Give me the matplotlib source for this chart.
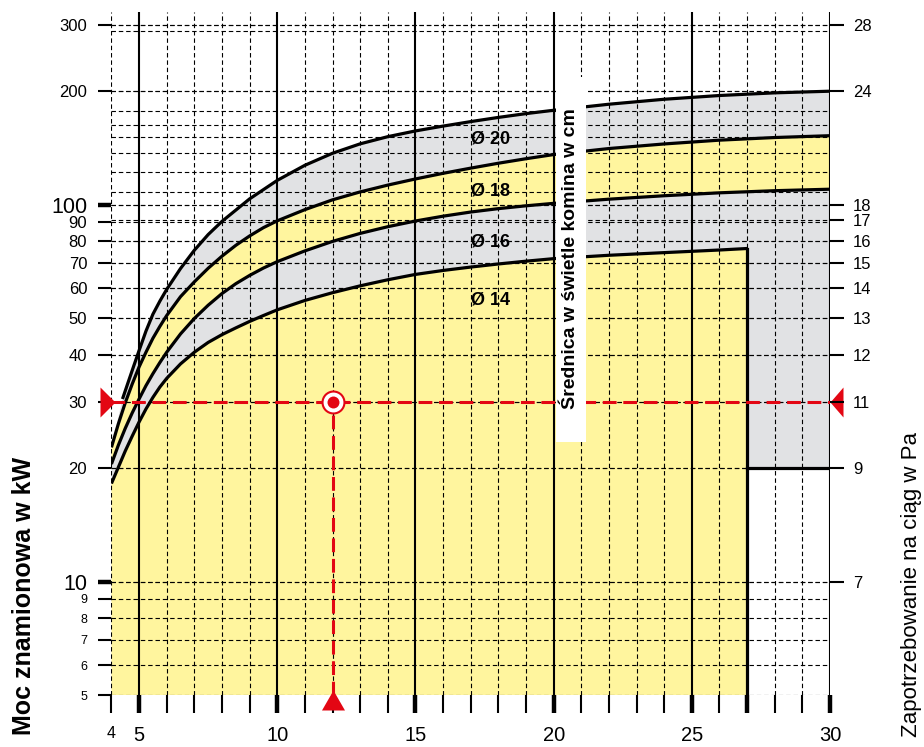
import numpy as np
import matplotlib.pyplot as plt
from matplotlib.patches import Rectangle

plt.rcParams['font.family'] = ['Liberation Sans', 'DejaVu Sans']

# chimney height [m] vs nominal power [kW] for each flue diameter
x14 = [4, 4.25, 4.5, 4.75, 5, 5.25, 5.5, 5.75, 6, 6.5, 7, 7.5, 8, 8.5, 9, 9.5, 10, 11, 12, 13, 14, 15,
       16, 17, 18, 19, 20, 22, 24, 26, 27]
kw14 = [18.2, 20.1, 22.2, 24.3, 26.5, 28.7, 30.8, 32.8, 34.6, 37.8, 40.6, 43.1, 45.2, 47.1, 49.0, 50.8,
        52.6, 55.7, 58.4, 60.9, 63.2, 65.3, 66.9, 68.3, 69.6, 70.8, 71.9, 73.4, 74.6, 75.8, 76.5]

x16 = [4, 4.25, 4.5, 4.75, 5, 5.25, 5.5, 5.75, 6, 6.5, 7, 7.5, 8, 8.5, 9, 9.5, 10, 11, 12, 13, 14, 15,
       16, 17, 18, 19, 20, 22, 24, 26, 28, 30]
kw16 = [20.5, 23.0, 25.5, 28.0, 30.5, 33.1, 35.6, 38.1, 40.6, 45.4, 49.9, 54.1, 58.1, 61.7, 64.9, 67.9,
        70.6, 75.4, 79.9, 83.9, 87.4, 90.5, 93.2, 95.6, 97.6, 99.3, 100.8, 103.4, 105.6, 107.5, 108.9, 109.9]

x18 = [4, 4.25, 4.5, 4.75, 5, 5.25, 5.5, 5.75, 6, 6.5, 7, 7.5, 8, 8.5, 9, 9.5, 10, 11, 12, 13, 14, 15,
       16, 17, 18, 19, 20, 22, 24, 26, 28, 30]
kw18 = [22.7, 26.2, 29.8, 33.4, 37.1, 40.6, 44.2, 47.5, 50.8, 57.0, 62.4, 67.8, 73.0, 78.0, 82.6, 86.9,
        90.6, 97.0, 103.0, 108.1, 112.7, 117.0, 121.1, 125.0, 128.8, 132.4, 135.8, 140.9, 144.9, 148.3,
        150.7, 152.4]

x20 = [4.4, 4.6, 4.8, 5, 5.25, 5.5, 5.76, 6, 6.5, 7, 7.5, 8, 9, 10, 11, 12, 13, 14, 15, 16, 17, 18, 19,
       20, 22, 24, 26, 28, 30]
kw20 = [30.5, 33.7, 37.2, 41.0, 46.2, 51.2, 55.6, 59.6, 67.7, 75.7, 83.3, 90.3, 103.6, 116.0, 127.2,
        136.9, 145.0, 151.5, 156.9, 161.6, 166.1, 170.4, 174.4, 178.0, 184.7, 190.4, 194.8, 198.0, 200.0]

# lower edge of the grey zone right of the Ø14 range
grey_floor = 20

# left scale (kW)
kw_ticks = [5, 6, 7, 8, 9, 10, 20, 30, 40, 50, 60, 70, 80, 90, 100, 200, 300]
# right scale: draught requirement [Pa] and where it sits on the kW scale
pa_labels = [28, 24, 18, 17, 16, 15, 14, 13, 12, 11, 9, 7]
pa_pos = [300, 200, 100, 91, 80, 70, 60, 50, 40, 30, 20, 10]
pa_grid = [108, 122, 137, 151, 163, 177, 289]

x_labels = {4: '4', 5: '5', 10: '10', 15: '15', 20: '20', 25: '25', 30: '30'}

# example reading: 12 m chimney, 30 kW boiler
pt_x, pt_kw = 12, 30

YELLOW = '#FFF59E'
GREY = '#E1E2E4'
RED = '#E30613'

fig = plt.figure(figsize=(9.24, 7.47), dpi=100)
ax = fig.add_axes([0.1206, 0.0696, 0.7777, 0.9147])
ax.set_yscale('log')
ax.set_xlim(4, 30)
ax.set_ylim(5, 325)
for s in ax.spines.values():
    s.set_visible(False)

# coloured bands
ax.fill(x14 + [x14[-1], x14[0]], kw14 + [5, 5], color=YELLOW, lw=0, zorder=1)
ax.fill(x16 + [x16[-1], x14[-1]] + x14[::-1], kw16 + [grey_floor, grey_floor] + kw14[::-1],
        color=GREY, lw=0, zorder=1)
ax.fill(x18 + x16[::-1], kw18 + kw16[::-1], color=YELLOW, lw=0, zorder=1)
ax.fill(x20 + x18[::-1], kw20 + kw18[::-1], color=GREY, lw=0, zorder=1)

# grid
dash = (0, (4, 2.6))
for v in kw_ticks + pa_grid + pa_pos:
    ax.axhline(v, color='black', lw=0.8, ls=dash, zorder=2)
for xv in range(4, 31):
    if xv % 5 == 0:
        ax.axvline(xv, color='black', lw=1.5, zorder=2.5)
    else:
        ax.axvline(xv, color='black', lw=0.8, ls=dash, zorder=2)

# curves
for xs, ys in [(x14, kw14), (x16, kw16), (x18, kw18), (x20, kw20)]:
    ax.plot(xs, ys, color='black', lw=2.3, zorder=3, solid_capstyle='butt', solid_joinstyle='round')
ax.plot([x14[-1], x14[-1]], [5, kw14[-1]], color='black', lw=2.3, zorder=3)
ax.plot([x14[-1], 30], [grey_floor, grey_floor], color='black', lw=2.3, zorder=3)

# diameter labels
for txt, kw in [('Ø 20', 149), ('Ø 18', 109), ('Ø 16', 79.5), ('Ø 14', 56)]:
    ax.text(17.7, kw, txt, ha='center', va='center', fontsize=13, fontweight='bold', zorder=4)

# example reading
ax.axhline(pt_kw, color=RED, lw=2.2, ls=(0, (4.5, 2.2)), zorder=4)
ax.plot([pt_x, pt_x], [5, pt_kw], color=RED, lw=2.2, ls=(0, (4.5, 2.2)), zorder=4)
ax.plot(pt_x, pt_kw, 'o', ms=15.8, mfc='white', mec=RED, mew=1.5, zorder=4.5)
ax.plot(pt_x, pt_kw, 'o', ms=8.6, color=RED, mew=0, zorder=4.6)
tri_left = [(-11, 15), (4, 0), (-11, -15)]
tri_right = [(13, 15), (0, 0), (13, -15)]
tri_up = [(-11.5, -15), (0, 5), (11.5, -15)]
ax.plot(4, pt_kw, marker=tri_left, ms=21.6, color=RED, mew=0, clip_on=False, zorder=4.6)
ax.plot(30, pt_kw, marker=tri_right, ms=21.6, color=RED, mew=0, clip_on=False, zorder=4.6)
ax.plot(pt_x, 5, marker=tri_up, ms=21.6, color=RED, mew=0, clip_on=False, zorder=4.6)

# diameter caption in a white box
ax.add_patch(Rectangle((20.07, 23.5), 1.09, 195, fc='white', ec='none', zorder=5))
ax.text(20.62, 72, 'Średnica w świetle komina w cm', rotation=90, ha='center', va='center',
        fontsize=14, fontweight='bold', zorder=6)

# left axis ticks
ax.yaxis.set_minor_locator(plt.NullLocator())
ax.set_yticks(kw_ticks)
ax.set_yticklabels([str(v) for v in kw_ticks])
ax.tick_params(axis='y', direction='out', length=9.5, width=1.5, pad=8, labelsize=12)
for t, v in zip(ax.yaxis.get_major_ticks(), kw_ticks):
    if v in (10, 100):
        t.tick1line.set_markeredgewidth(3.2)
        t.label1.set_fontsize(15.5)
    elif v < 10:
        t.label1.set_fontsize(9)

# bottom ticks
xt = list(range(4, 31))
ax.set_xticks(xt)
ax.set_xticklabels([x_labels.get(v, '') for v in xt])
ax.tick_params(axis='x', direction='out', length=13, width=1.5, pad=9.5, labelsize=14.5)
for t, v in zip(ax.xaxis.get_major_ticks(), xt):
    if v % 5 == 0 or v == x14[-1]:
        t.tick1line.set_markeredgewidth(3.2)
    if v == 4:
        t.label1.set_fontsize(11.5)

# right scale
ax2 = ax.twinx()
ax2.set_yscale('log')
ax2.set_ylim(5, 325)
for s in ax2.spines.values():
    s.set_visible(False)
ax2.yaxis.set_minor_locator(plt.NullLocator())
ax2.set_yticks(pa_pos)
ax2.set_yticklabels([str(v) for v in pa_labels])
ax2.tick_params(axis='y', direction='out', length=10, width=1.5, pad=6.5, labelsize=12)

fig.text(0.026, 0.202, 'Moc znamionowa w kW', rotation=90, ha='center', va='center',
         fontsize=18, fontweight='bold')
fig.text(0.987, 0.218, 'Zapotrzebowanie na ciąg w Pa', rotation=90, ha='center', va='center',
         fontsize=16)

fig.savefig('out.png', dpi=100)
